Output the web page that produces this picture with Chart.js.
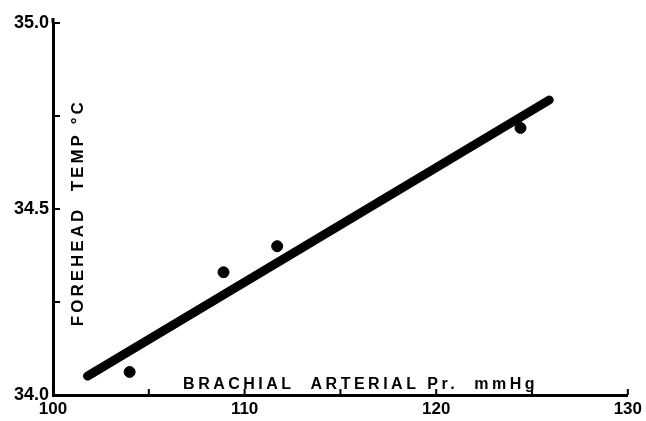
<!DOCTYPE html>
<html>
<head>
<meta charset="utf-8">
<script src="https://cdn.jsdelivr.net/npm/chart.js@4"></script>
<style>
  html, body { margin: 0; padding: 0; background: #fff; }
  #wrap { width: 646px; height: 421px; }
</style>
</head>
<body>
<div id="wrap"><canvas id="chart"></canvas></div>
<script>
// Data
const pointX = [104.0, 108.9, 111.7, 124.4];
const pointY = [34.062, 34.33, 34.40, 34.718];
// Fitted line end points
const lineX = [101.8, 125.9];
const lineY = [34.051, 34.793];
// Ticks
const xTicks = [100, 105, 110, 115, 120, 125, 130];
const yTicks = [34.0, 34.25, 34.5, 34.75, 35.0];
const xTitle = "BRACHIAL  ARTERIAL Pr.  mmHg";
const yTitle = "FOREHEAD  TEMP °C";

const font = "'Liberation Sans', Arial, sans-serif";

// Inward tick marks and titles written inside the plot
const innerMarks = {
    id: "innerMarks",
    afterDraw(c) {
        const ctx = c.ctx;
        const xs = c.scales.x;
        const ys = c.scales.y;
        const area = c.chartArea;
        ctx.save();
        ctx.strokeStyle = "#000";
        ctx.lineWidth = 2;
        xTicks.forEach((v) => {
            if (v === 100) return;
            const px = xs.getPixelForValue(v);
            ctx.beginPath();
            ctx.moveTo(px, area.bottom);
            ctx.lineTo(px, area.bottom - 6);
            ctx.stroke();
        });
        yTicks.forEach((v) => {
            if (v === 34.0) return;
            const py = ys.getPixelForValue(v);
            ctx.beginPath();
            ctx.moveTo(area.left, py);
            ctx.lineTo(area.left + 7, py);
            ctx.stroke();
        });
        // axis stub above the top tick
        ctx.lineWidth = 3;
        ctx.beginPath();
        ctx.moveTo(area.left, area.top);
        ctx.lineTo(area.left, area.top - 5);
        ctx.stroke();
        ctx.fillStyle = "#000";
        ctx.font = "bold 16px " + font;
        ctx.letterSpacing = "3.5px";
        ctx.textAlign = "center";
        ctx.textBaseline = "middle";
        ctx.fillText(xTitle, xs.getPixelForValue(116.05), ys.getPixelForValue(34.028));
        ctx.font = "bold 17px " + font;
        ctx.letterSpacing = "3px";
        ctx.translate(xs.getPixelForValue(101.3), ys.getPixelForValue(34.49));
        ctx.rotate(-Math.PI / 2);
        ctx.fillText(yTitle, 0, 0);
        ctx.restore();
    },
};

new Chart(document.getElementById("chart"), {
    type: "scatter",
    data: {
        datasets: [
            {
                label: "fit",
                type: "line",
                data: lineX.map((x, i) => ({ x: x, y: lineY[i] })),
                borderColor: "#000",
                borderWidth: 9,
                borderCapStyle: "round",
                pointRadius: 0,
                fill: false,
            },
            {
                label: "obs",
                data: pointX.map((x, i) => ({ x: x, y: pointY[i] })),
                backgroundColor: "#000",
                borderColor: "#000",
                pointRadius: 5.5,
            },
        ],
    },
    options: {
        responsive: true,
        maintainAspectRatio: false,
        animation: false,
        layout: {
            padding: { top: 23, right: 12, left: 0, bottom: 0 },
        },
        scales: {
            x: {
                type: "linear",
                min: 100,
                max: 130,
                afterBuildTicks: (s) => {
                    s.ticks = xTicks.map((v) => ({ value: v }));
                },
                afterFit: (s) => {
                    s.height = 26;
                },
                ticks: {
                    autoSkip: false,
                    maxRotation: 0,
                    padding: 4,
                    color: "#000",
                    font: { family: font, size: 17, weight: "bold" },
                    callback: (v) => (v % 10 === 0 ? String(v) : ""),
                },
                grid: {
                    display: true,
                    drawOnChartArea: false,
                    drawTicks: false,
                    color: "transparent",
                },
                border: { display: true, color: "#000", width: 3 },
            },
            y: {
                type: "linear",
                min: 34,
                max: 35,
                afterBuildTicks: (s) => {
                    s.ticks = yTicks.map((v) => ({ value: v }));
                },
                afterFit: (s) => {
                    s.width = 53;
                },
                ticks: {
                    autoSkip: false,
                    padding: 4,
                    color: "#000",
                    font: { family: font, size: 18, weight: "bold" },
                    callback: (v) =>
                        Math.abs((v * 2) % 1) < 1e-6 ? v.toFixed(1) : "",
                },
                grid: {
                    display: true,
                    drawOnChartArea: false,
                    drawTicks: false,
                    color: "transparent",
                },
                border: { display: true, color: "#000", width: 3 },
            },
        },
        plugins: {
            legend: { display: false },
            tooltip: { enabled: false },
        },
    },
    plugins: [innerMarks],
});
</script>
</body>
</html>
